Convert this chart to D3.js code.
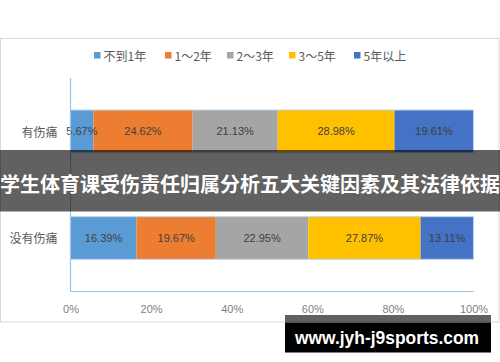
<!DOCTYPE html>
<html><head><meta charset="utf-8">
<script src="https://cdn.jsdelivr.net/npm/d3@7"></script>
<style>
html,body{margin:0;padding:0;background:#fff;}
svg{display:block;}
</style></head>
<body>
<script>
const categories = ["有伤痛", "没有伤痛"];
const seriesNames = ["不到1年", "1～2年", "2～3年", "3～5年", "5年以上"];
const seriesColors = ["#5b9bd5", "#ed7d31", "#a5a5a5", "#ffc000", "#4472c4"];
const valuesInjured = [5.67, 24.62, 21.13, 28.98, 19.61];
const valuesNotInjured = [16.39, 19.67, 22.95, 27.87, 13.11];
const tickValues = [0, 20, 40, 60, 80, 100];
const bannerTitle = "学生体育课受伤责任归属分析五大关键因素及其法律依据";
const watermark = "www.jyh-j9sports.com";

const W = 500, H = 362;
const svg = d3.select("body").append("svg").attr("width", W).attr("height", H);

// chart frame
svg.append("rect").attr("x", 0.5).attr("y", 38.5).attr("width", 498.5).attr("height", 283.5)
  .attr("fill", "#fff").attr("stroke", "#d9d9d9").attr("stroke-width", 1);

const x = d3.scaleLinear().domain([0, 100]).range([70.5, 473.5]);
const y = d3.scaleBand().domain(categories).range([78, 291.3]).paddingInner(0.6).paddingOuter(0.3);

const rows = [valuesInjured, valuesNotInjured].map((vals, i) => {
  let acc = 0;
  return vals.map((v, j) => { const d = {cat: categories[i], s: j, v, x0: acc, x1: acc + v}; acc += v; return d; });
});

// legend
const legendSquareX = [94, 165, 227, 289, 354];
const legend = svg.append("g");
seriesNames.forEach((n, i) => {
  legend.append("rect").attr("x", legendSquareX[i]).attr("y", 52).attr("width", 6.5).attr("height", 6.5)
    .attr("fill", seriesColors[i]);
  legend.append("text").attr("x", legendSquareX[i] + 9.5).attr("y", 55.5)
    .attr("dominant-baseline", "central")
    .attr("font-family", "'Noto Sans CJK SC', 'Liberation Sans', sans-serif")
    .attr("font-size", 12).attr("fill", "#595959").text(n);
});

// bars
const g = svg.append("g");
rows.forEach(row => {
  g.selectAll(null).data(row).enter().append("rect")
    .attr("x", d => x(d.x0)).attr("width", d => x(d.x1) - x(d.x0))
    .attr("y", d => y(d.cat)).attr("height", y.bandwidth())
    .attr("fill", d => seriesColors[d.s]);
  g.append("rect").attr("x", x(0)).attr("width", x(100) - x(0))
    .attr("y", y(row[0].cat)).attr("height", y.bandwidth())
    .attr("fill", "none").attr("stroke", "#bdd7ee").attr("stroke-width", 1);
  g.selectAll(null).data(row).enter().append("text")
    .attr("x", d => (x(d.x0) + x(d.x1)) / 2).attr("y", d => y(d.cat) + y.bandwidth() / 2)
    .attr("text-anchor", "middle").attr("dominant-baseline", "central")
    .attr("font-family", "'Liberation Sans', Arial, sans-serif").attr("font-size", 11)
    .attr("fill", "#404040").text(d => d.v.toFixed(2) + "%");
});

// axes lines
svg.append("line").attr("x1", 70.5).attr("x2", 70.5).attr("y1", 78).attr("y2", 291.5)
  .attr("stroke", "#9dc3e6").attr("stroke-width", 1.2);
svg.append("line").attr("x1", 70.5).attr("x2", 473.5).attr("y1", 291.5).attr("y2", 291.5)
  .attr("stroke", "#9dc3e6").attr("stroke-width", 1.2);

// category labels
svg.selectAll(null).data(categories).enter().append("text")
  .attr("x", 57.5).attr("y", d => y(d) + y.bandwidth() / 2)
  .attr("text-anchor", "end").attr("dominant-baseline", "central")
  .attr("font-family", "'Noto Sans CJK SC', sans-serif").attr("font-size", 12)
  .attr("fill", "#595959").text(d => d);

// x tick labels
const xAxis = d3.axisBottom(x).tickValues(tickValues).tickSize(0).tickPadding(0).tickFormat(d => d + "%");
const ax = svg.append("g").attr("transform", "translate(0,305)").call(xAxis);
ax.select(".domain").remove();
ax.selectAll("text").attr("font-family", "'Liberation Sans', Arial, sans-serif").attr("font-size", 11)
  .attr("fill", "#7f7f7f").attr("dy", "0.71em").attr("y", 0);

// banner overlay
svg.append("rect").attr("x", 0).attr("y", 150).attr("width", W).attr("height", 61.5)
  .attr("fill", "rgba(0,0,0,0.62)");
svg.append("text").attr("x", 250).attr("y", 183).attr("text-anchor", "middle")
  .attr("dominant-baseline", "central")
  .attr("font-family", "'Noto Sans CJK SC', sans-serif").attr("font-weight", "bold")
  .attr("font-size", 20)
  .attr("fill", "#fff").text(bannerTitle);

// watermark
svg.append("rect").attr("x", 285).attr("y", 315).attr("width", 206).attr("height", 7.5)
  .attr("fill", "rgba(0,0,0,0.62)");
svg.append("rect").attr("x", 285).attr("y", 322.5).attr("width", 206).attr("height", 30)
  .attr("fill", "#000");
svg.append("text").attr("x", 295).attr("y", 337.5).attr("dominant-baseline", "central")
  .attr("font-family", "'Liberation Sans', Arial, sans-serif").attr("font-weight", "bold")
  .attr("font-size", 18).attr("textLength", 184).attr("lengthAdjust", "spacingAndGlyphs")
  .attr("fill", "#fff").text(watermark);
</script>
</body></html>
